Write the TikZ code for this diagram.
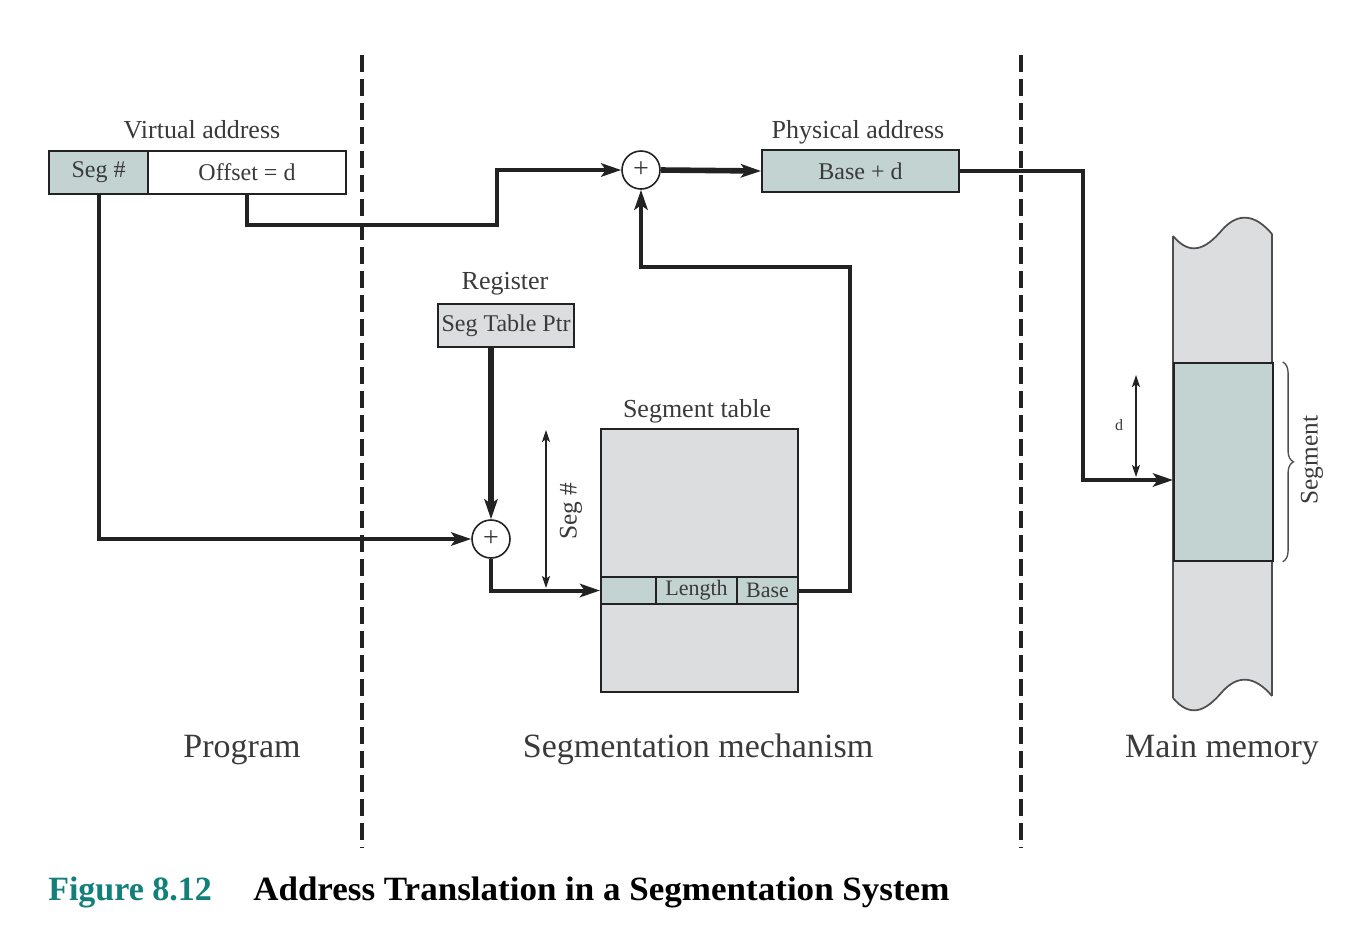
\documentclass[tikz,border=0pt]{standalone}
\usepackage{fontspec}
\setmainfont{Liberation Serif}
\usetikzlibrary{arrows.meta,decorations.pathreplacing,calc}
\definecolor{tealbox}{HTML}{C2D3D2}
\definecolor{greybox}{HTML}{DCDDDF}
\definecolor{ink}{HTML}{222222}
\definecolor{txt}{HTML}{3A3A3A}
\definecolor{capteal}{HTML}{127F7A}

\begin{document}
\begin{tikzpicture}[x=0.75pt,y=-0.75pt,
  sz/.style 2 args={minimum width=#1*0.75pt, minimum height=#2*0.75pt},
  box/.style={draw=ink, line width=1.5pt, anchor=north west, inner sep=0pt,
    text=txt, font=\fontsize{18}{20}\selectfont},
  lbl/.style={inner sep=0pt, text=txt, font=\fontsize{19.5}{22}\selectfont},
  biglbl/.style={inner sep=0pt, text=txt, font=\fontsize{25.5}{28}\selectfont, anchor=base},
  adder/.style={circle, draw=ink, line width=1.2pt, fill=white, inner sep=0pt,
    minimum size=28.5pt, text=txt, font=\fontsize{21}{21}\selectfont},
  conn/.style={draw=ink, line width=3pt,
    -{Stealth[length=15pt,width=10pt,inset=3.5pt]}},
  heavy/.style={conn, line width=4.2pt},
  dim/.style={draw=ink, line width=1.2pt,
    {Stealth[length=9pt,width=6pt,inset=2pt]}-{Stealth[length=9pt,width=6pt,inset=2pt]}},
  divider/.style={draw=ink, line width=3pt, dash pattern=on 12.5pt off 5.5pt},
]
\useasboundingbox (0,0) rectangle (1348,950);

% region dividers
\coordinate (dA1) at (362,55);  \coordinate (dA2) at (362,848);
\coordinate (dB1) at (1021,55); \coordinate (dB2) at (1021,848);
\draw[divider] (dA1) -- (dA2);
\draw[divider] (dB1) -- (dB2);

% virtual address
\node[box, fill=tealbox, sz={99}{43}] (segno) at (48,150) {Seg \#};
\node[box, fill=white, sz={198}{43}] (offset) at (147,150) {Offset = d};
\node[lbl, anchor=base] (vlabel) at (202,138) {Virtual address};

% physical address
\node[box, fill=tealbox, sz={197}{42}] (phys) at (761,149) {Base + d};
\node[lbl, anchor=base] (plabel) at (858,138) {Physical address};

% adders
\node[adder] (addtop) at (641,170) {+};
\node[adder] (addbot) at (491,539) {+};

% register
\node[box, fill=greybox, sz={136}{43}] (reg) at (437,303) {Seg Table Ptr};
\node[lbl, anchor=base] (reglabel) at (505,289) {Register};

% segment table
\node[box, fill=greybox, sz={197}{263}] (table) at (600,428) {};
\node[lbl, anchor=base] (tlabel) at (697,417) {Segment table};
\node[box, fill=tealbox, sz={55}{27}] (rowa) at (600,576) {};
\node[box, fill=tealbox, sz={81}{27}, font=\fontsize{16.5}{18}\selectfont] (rowlen) at (655,576) {Length};
\node[box, fill=tealbox, sz={61}{27}, font=\fontsize{16.5}{18}\selectfont] (rowbase) at (736,576) {Base};

% main memory strip
\path[fill=greybox] (1173,236) .. controls (1190,256) and (1205,250) .. (1222,230)
  .. controls (1238,212) and (1255,214) .. (1272,234) -- (1272,696)
  .. controls (1255,676) and (1238,674) .. (1222,692)
  .. controls (1205,712) and (1190,718) .. (1173,698) -- cycle;
\draw[draw=ink!80, line width=1.3pt] (1173,236) .. controls (1190,256) and (1205,250) .. (1222,230)
  .. controls (1238,212) and (1255,214) .. (1272,234);
\draw[draw=ink!80, line width=1.3pt] (1173,698) .. controls (1190,718) and (1205,712) .. (1222,692)
  .. controls (1238,674) and (1255,676) .. (1272,696);
\draw[draw=ink!80, line width=1.3pt] (1173,236) -- (1173,698);
\draw[draw=ink!80, line width=1.3pt] (1272,234) -- (1272,696);
\node[box, fill=tealbox, line width=1.3pt, sz={99}{198}] (mseg) at (1173,362) {};

% segment brace and offset marker
\draw[draw=ink!80, line width=1pt, decorate, decoration={brace, amplitude=8pt}]
  (mseg.north east) ++(9,0) coordinate (brA) -- (mseg.south east -| brA) coordinate (brB);
\node[lbl, rotate=90, font=\fontsize{19}{20}\selectfont] (seglbl) at (1312,460) {Segment};
\coordinate (dtop) at (1136,375);
\coordinate (dbot) at (1136,477);
\draw[dim] (dtop) -- (dbot);
\node[lbl, font=\fontsize{12}{12}\selectfont] (dlbl) at (1119,425) {d};

% seg # marker beside the table
\coordinate (stop) at (546,430);
\coordinate (sbot) at (546,588);
\draw[dim] (stop) -- (sbot);
\node[lbl, rotate=90, font=\fontsize{19}{20}\selectfont] (snlbl) at (571,511) {Seg \#};

% connectors
\coordinate (j1) at (497,225);
\draw[conn] (offset.south) |- (j1) |- (addtop.west);
\draw[heavy] (addtop.east) -- (phys.west);
\coordinate (m1) at (1083,480);
\draw[conn] (phys.east) -| (m1) -- (m1 -| mseg.west);
\draw[conn] (segno.south) |- (addbot.west);
\draw[heavy] (addbot |- reg.south) -- (addbot.north);
\draw[conn] (addbot.south) |- (rowa.west);
\coordinate (k1) at (850,267);
\draw[conn] (rowbase.east) -| (k1) -| (addtop.south);

% region names
\node[biglbl] (prog) at (242,757) {Program};
\node[biglbl] (mech) at (698,757) {Segmentation mechanism};
\node[biglbl] (mem) at (1222,757) {Main memory};

% caption
\node[inner sep=0pt, anchor=base west, text=capteal, font=\fontsize{25.5}{28}\selectfont\bfseries] (capnum) at (48,900) {Figure 8.12};
\node[inner sep=0pt, anchor=base west, text=black, font=\fontsize{25.5}{28}\selectfont\bfseries] (captxt) at (253,900) {\scalebox{1.03}[1]{Address Translation in a Segmentation System}};
\end{tikzpicture}
\end{document}
